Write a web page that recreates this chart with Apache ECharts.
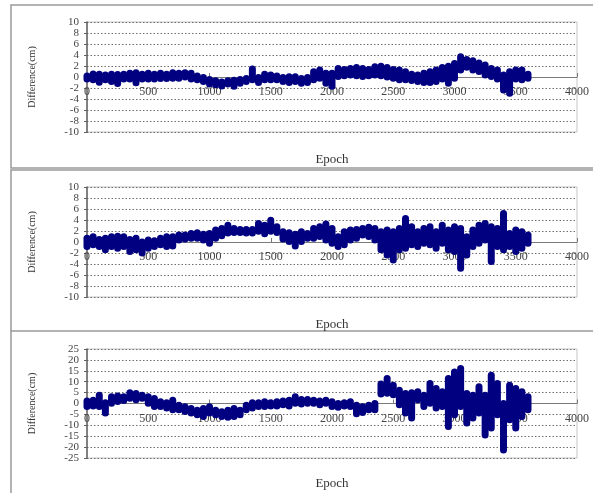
<!DOCTYPE html>
<html>
<head>
<meta charset="utf-8">
<script src="https://cdn.jsdelivr.net/npm/echarts@6/dist/echarts.min.js"></script>
<style>
  html, body { margin: 0; padding: 0; background: #fff; }
  #chart { width: 593px; height: 493px; }
</style>
</head>
<body>
<div id="chart"></div>
<script>
// epochs sampled every 50; hi / lo = upper and lower edge of the plotted cloud
const epochs = [0, 50, 100, 150, 200, 250, 300, 350, 400, 450, 500, 550, 600, 650, 700, 750, 800, 850, 900, 950,
  1000, 1050, 1100, 1150, 1200, 1250, 1300, 1350, 1400, 1450, 1500, 1550, 1600, 1650, 1700, 1750, 1800, 1850, 1900, 1950,
  2000, 2050, 2100, 2150, 2200, 2250, 2300, 2350, 2400, 2450, 2500, 2550, 2600, 2650, 2700, 2750, 2800, 2850, 2900, 2950,
  3000, 3050, 3100, 3150, 3200, 3250, 3300, 3350, 3400, 3450, 3500, 3550, 3600];

const p1Hi = [0.8, 1.2, 1.15, 1.0, 1.15, 1.1, 1.15, 1.3, 1.4, 1.15, 1.3, 1.15, 1.3, 1.15, 1.4, 1.3, 1.4, 1.3, 0.8, 0.55,
  0.2, -0.05, -0.25, -0.05, 0.05, 0.2, 0.35, 2.1, 0.55, 1.15, 1.0, 0.8, 0.55, 0.7, 0.7, 0.35, 0.55, 1.6, 1.9, 1.3,
  1.3, 2.2, 2.0, 2.2, 2.35, 2.2, 2.0, 2.5, 2.6, 2.35, 2.0, 1.9, 1.6, 1.15, 1.0, 1.3, 1.6, 1.9, 2.35, 2.6,
  3.1, 4.3, 3.8, 3.6, 3.2, 2.8, 2.2, 1.9, 1.0, 1.6, 1.9, 1.9, 1.15];
const p1Lo = [-1.0, -1.15, -1.6, -1.15, -1.45, -1.8, -1.0, -1.0, -1.7, -1.0, -1.0, -1.0, -0.9, -0.9, -0.85, -0.85, -0.65, -1.0, -1.15, -1.45,
  -1.9, -2.05, -2.25, -1.9, -2.3, -1.75, -1.45, -1.15, -1.65, -1.15, -1.15, -1.15, -1.45, -1.65, -1.45, -1.75, -1.65, -1.15, -0.85, -1.75,
  -2.3, -0.55, -0.4, -0.25, -0.4, -0.55, -0.4, -0.25, -0.4, -0.65, -0.85, -1.15, -1.15, -1.25, -1.45, -1.65, -1.65, -1.45, -1.0, -1.75,
  -0.85, 0.65, 1.15, 0.65, 0.35, -0.25, -0.55, -1.0, -3.0, -3.6, -1.0, -1.15, -0.85];

const p2Hi = [1.3, 1.6, 1.1, 1.3, 1.6, 1.7, 1.6, 1.1, 1.3, 0.65, 1.0, 0.85, 1.3, 1.6, 1.6, 1.9, 1.9, 2.2, 2.3, 2.05,
  2.2, 2.8, 3.1, 3.7, 3.1, 2.9, 2.9, 2.9, 4.0, 3.7, 4.6, 3.4, 2.5, 2.3, 2.05, 2.5, 2.2, 3.1, 3.4, 3.9,
  3.1, 1.6, 2.5, 2.8, 2.9, 3.1, 3.3, 3.1, 2.5, 2.8, 2.5, 3.1, 4.9, 3.4, 2.5, 3.1, 3.4, 2.5, 3.7, 2.8,
  3.4, 3.1, 1.6, 2.8, 3.7, 4.0, 3.4, 3.1, 5.8, 2.2, 2.8, 2.5, 1.9];
const p2Lo = [-1.45, -1.15, -1.45, -2.05, -1.45, -1.75, -1.45, -2.35, -2.05, -2.65, -1.75, -1.45, -1.15, -1.45, -1.35, -0.25, -0.1, 0.05, 0.05, -0.25,
  -0.85, 0.05, 0.5, 1.0, 1.1, 1.1, 1.0, 1.0, 1.3, 0.85, 1.3, 1.1, -0.1, -0.55, -1.35, -0.55, 0.05, 0.05, 0.35, -0.25,
  -0.85, -1.45, -1.15, -0.25, 0.05, 0.65, 0.35, -0.25, -2.05, -3.0, -3.9, -2.05, -1.75, -1.15, -1.45, -0.85, -1.15, -1.75, -0.85, -2.05,
  -2.35, -5.4, -3.0, -1.45, -0.85, -0.25, -4.2, -1.45, -2.05, -1.45, -2.35, -1.75, -0.85];

const p3Hi = [2.8, 3.1, 5.4, 1.9, 4.7, 5.0, 4.7, 6.5, 6.2, 5.4, 4.7, 3.9, 2.4, 1.9, 3.1, 0.8, 0.1, -0.7, -1.5, -0.7,
  0.1, -1.5, -2.2, -1.5, -0.7, -1.5, 0.8, 1.9, 1.9, 2.4, 1.9, 2.4, 2.8, 3.1, 4.7, 3.4, 3.4, 3.1, 2.8, 3.1,
  2.4, 1.6, 1.9, 2.4, 0.8, 0.1, 0.8, 1.6, 10.5, 13.1, 10.0, 7.7, 6.2, 6.5, 7.0, 5.4, 10.8, 8.5, 7.0, 13.1,
  16.1, 17.7, 6.2, 5.4, 9.3, 5.4, 14.6, 10.8, 1.6, 10.0, 8.5, 7.0, 4.7];
const p3Lo = [-3.0, -2.7, -3.0, -6.0, -1.5, -0.7, -0.2, 0.8, 0.1, 0.8, -1.5, -3.0, -3.0, -3.7, -4.5, -4.5, -5.3, -6.0, -6.8, -7.6,
  -6.0, -6.8, -7.6, -7.9, -7.6, -6.8, -4.5, -3.7, -3.0, -3.0, -2.7, -2.7, -2.2, -2.7, -1.5, -1.8, -1.5, -1.5, -2.2, -1.5,
  -3.0, -3.3, -2.7, -3.0, -6.3, -5.7, -4.5, -4.5, 2.8, 3.1, 2.4, -2.2, -6.0, -8.3, 0.1, -3.0, -1.5, -3.7, -3.0, -12.2,
  -6.8, -3.0, -10.6, -8.3, -6.0, -16.0, -12.9, -6.8, -22.9, -9.1, -12.9, -7.6, -4.5];

const xTicks = { min: 0, max: 4000, interval: 500 };
const yRanges = [
  { min: -10, max: 10, interval: 2 },
  { min: -10, max: 10, interval: 2 },
  { min: -25, max: 25, interval: 5 }
];
const panels = [[p1Hi, p1Lo], [p2Hi, p2Lo], [p3Hi, p3Lo]];

const grids = [
  { left: 87, top: 22, width: 490, height: 110 },
  { left: 87, top: 187, width: 490, height: 110 },
  { left: 87, top: 349, width: 490, height: 109 }
];

const serif = '"Liberation Serif", "DejaVu Serif", serif';
const dotColor = '#000080';

const chart = echarts.init(document.getElementById('chart'));

chart.setOption({
  animation: false,
  backgroundColor: '#fff',
  grid: grids.map((g) => ({
    ...g,
    outerBoundsMode: 'none',
    containLabel: false,
    show: true,
    borderColor: '#c4c4c4',
    borderWidth: 1,
    backgroundColor: 'transparent'
  })),
  xAxis: grids.map((g, i) => ({
    type: 'value',
    gridIndex: i,
    min: xTicks.min,
    max: xTicks.max,
    interval: xTicks.interval,
    position: 'bottom',
    // axis drawn across the middle of the plot, where y = 0
    offset: -g.height / 2,
    name: 'Epoch',
    nameLocation: 'middle',
    nameGap: i === 2 ? 74 : 76,
    nameTextStyle: { fontFamily: serif, fontSize: 13, color: '#333' },
    axisLine: { onZero: false, lineStyle: { color: '#7a7a7a', width: 1 } },
    axisTick: { show: true, inside: true, length: 4, lineStyle: { color: '#7a7a7a' } },
    axisLabel: { fontFamily: serif, fontSize: 12, color: '#444', margin: 9, formatter: (v) => String(v) },
    splitLine: { show: false }
  })),
  yAxis: grids.map((g, i) => ({
    type: 'value',
    gridIndex: i,
    min: yRanges[i].min,
    max: yRanges[i].max,
    interval: yRanges[i].interval,
    name: 'Difference(cm)',
    nameLocation: 'middle',
    nameGap: 50,
    nameRotate: 90,
    nameTextStyle: { fontFamily: serif, fontSize: 10, color: '#333' },
    axisLine: { show: true, onZero: false, lineStyle: { color: '#606060', width: 1.5 } },
    axisTick: { show: true, length: 3, lineStyle: { color: '#606060' } },
    axisLabel: { fontFamily: serif, fontSize: 11, color: '#444', margin: 8, lineHeight: 11 },
    splitLine: { show: true, lineStyle: { color: '#6e6e6e', type: [1.5, 2], width: 1 } }
  })),
  graphic: [
    { type: 'polyline', shape: { points: [[593, 5], [11, 5], [11, 168], [593, 168]] }, style: { stroke: '#9a9a9a', lineWidth: 1.5, fill: null } },
    { type: 'polyline', shape: { points: [[593, 170], [11, 170], [11, 331], [593, 331]] }, style: { stroke: '#9a9a9a', lineWidth: 1.5, fill: null } },
    { type: 'polyline', shape: { points: [[11, 493], [11, 331]] }, style: { stroke: '#9a9a9a', lineWidth: 1.5, fill: null } }
  ],
  series: panels.map(([hi, lo], i) => ({
    type: 'custom',
    xAxisIndex: i,
    yAxisIndex: i,
    clip: false,
    z: 1,
    encode: { x: 0, y: [1, 2] },
    data: epochs.map((e, k) => [e, hi[k], lo[k]]),
    renderItem: (params, api) => {
      const top = api.coord([api.value(0), api.value(1)]);
      const bottom = api.coord([api.value(0), api.value(2)]);
      return {
        type: 'rect',
        shape: { x: top[0] - 3.5, y: top[1], width: 7, height: Math.max(bottom[1] - top[1], 7), r: 3.5 },
        style: { fill: dotColor }
      };
    }
  }))
});

window.addEventListener('resize', () => chart.resize());
</script>
</body>
</html>
